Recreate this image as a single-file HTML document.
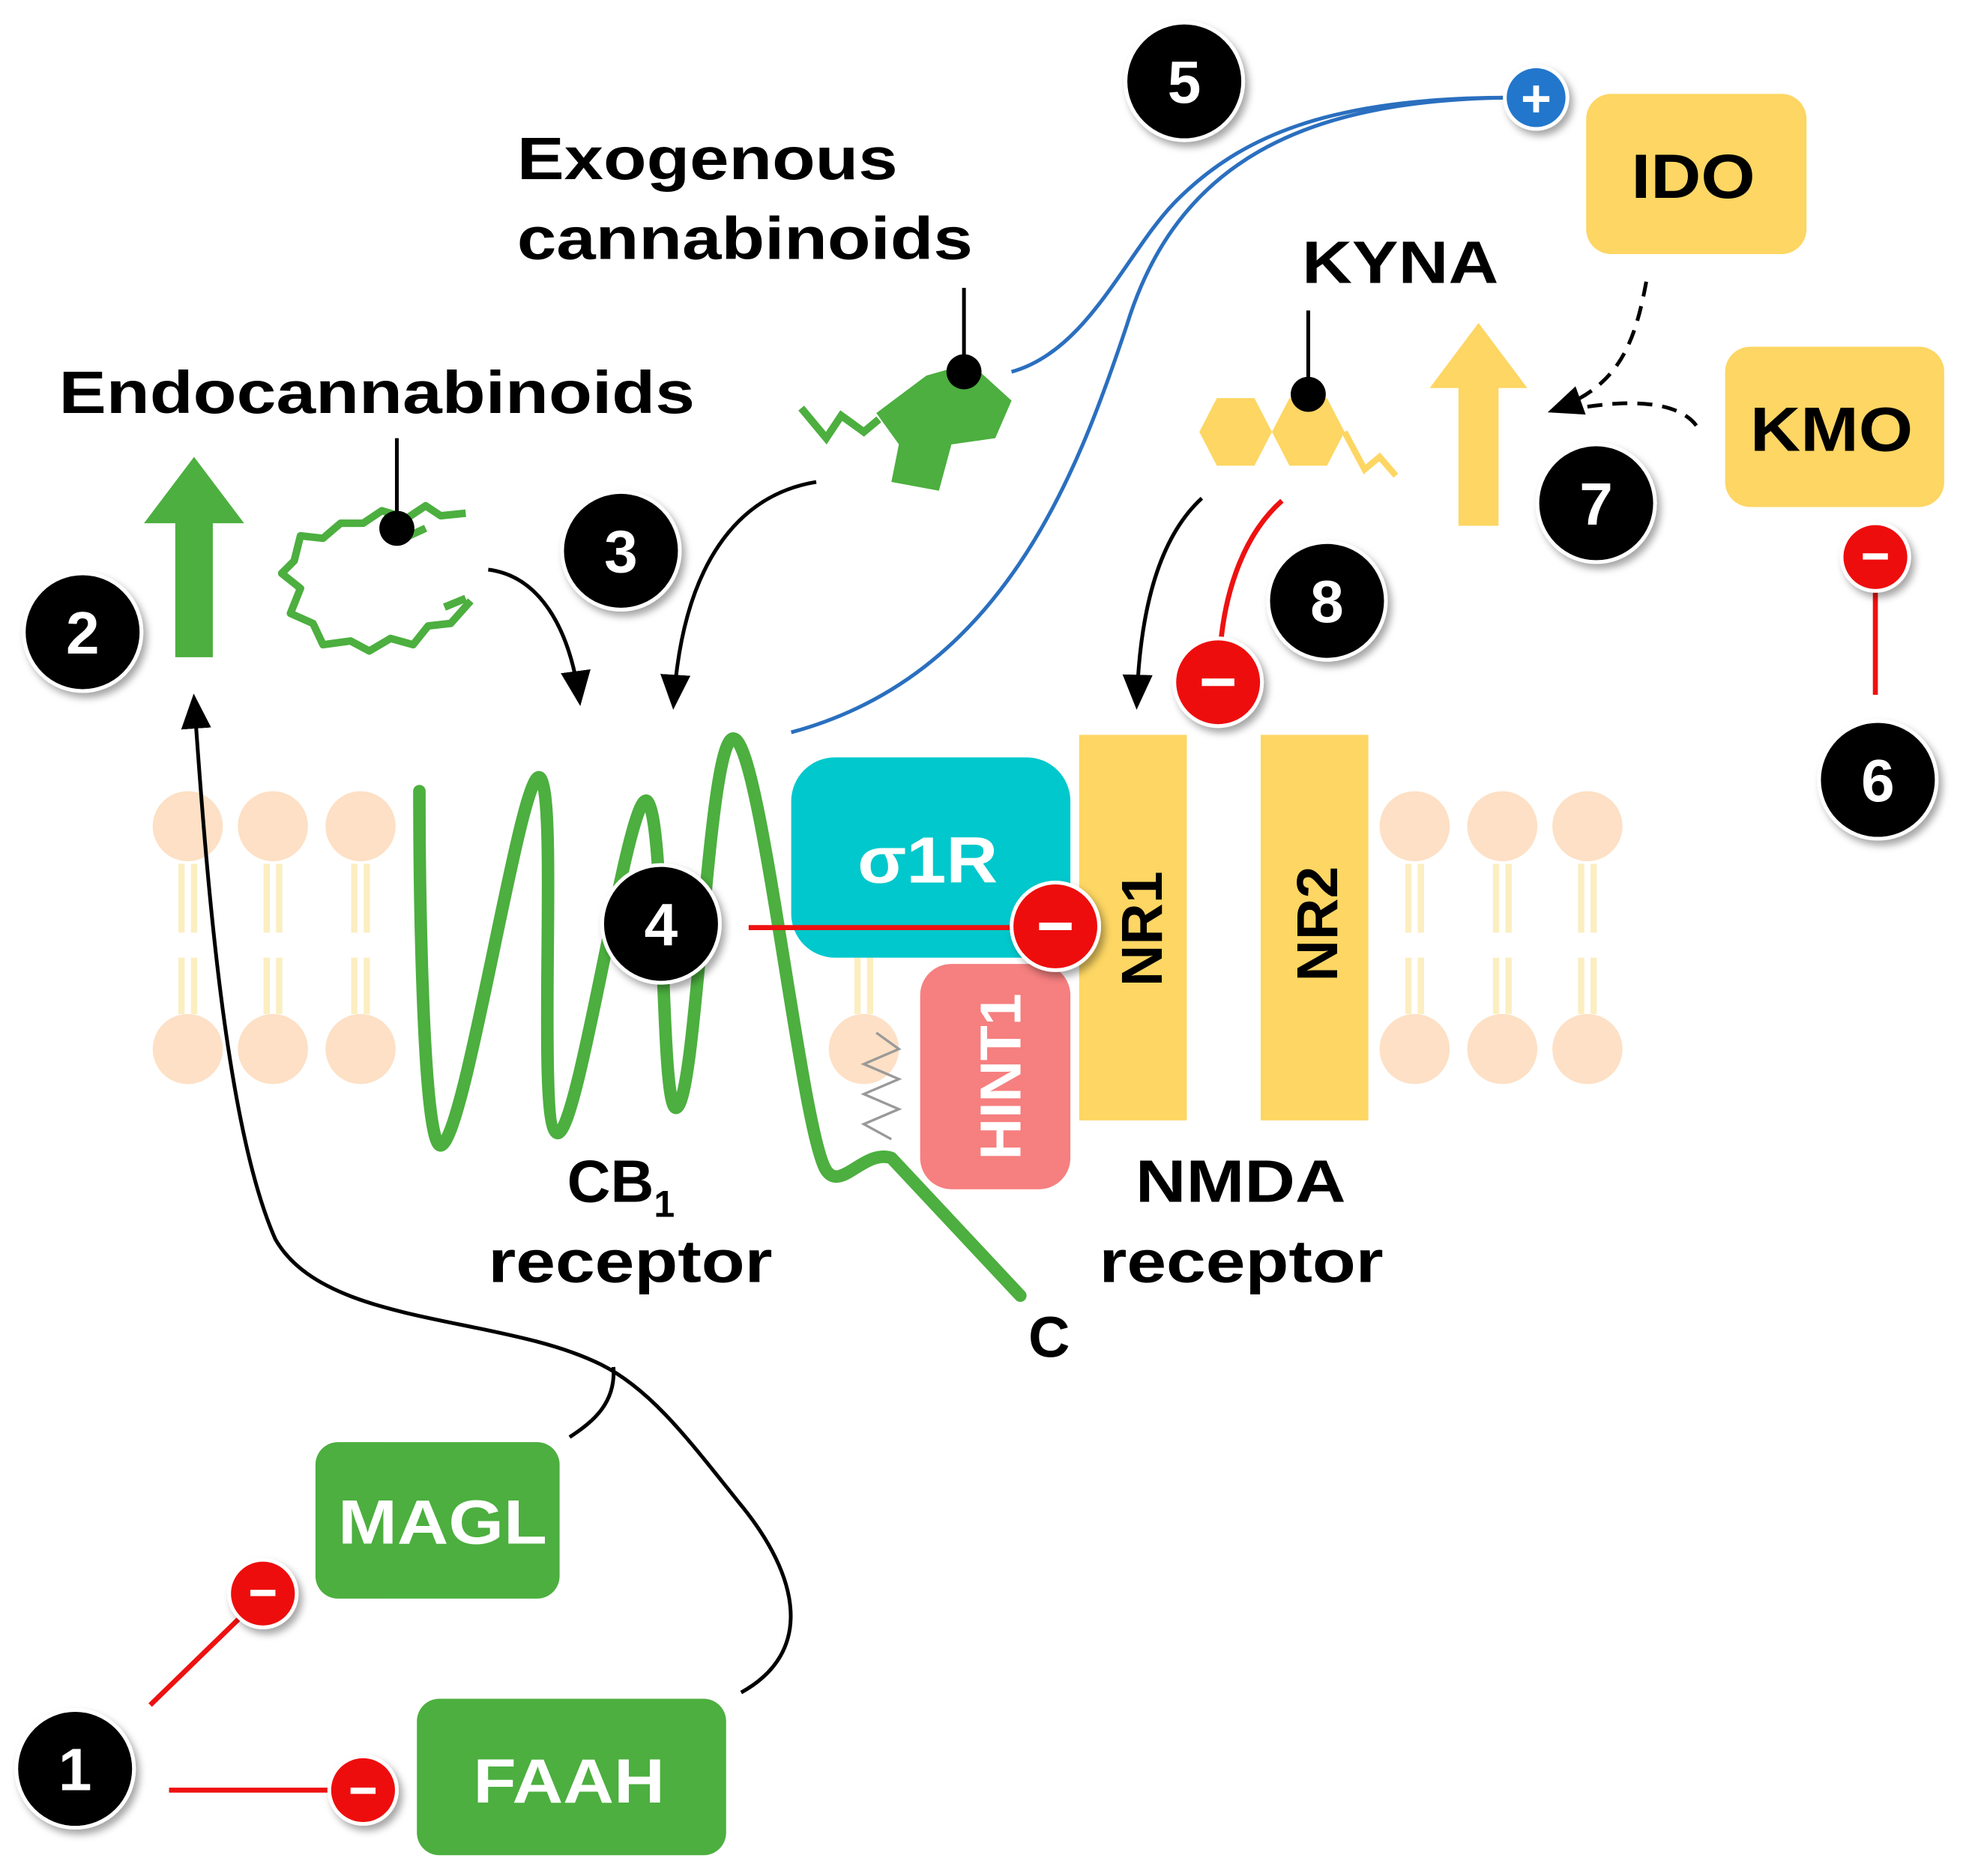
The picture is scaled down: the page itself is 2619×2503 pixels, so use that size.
<!DOCTYPE html>
<html><head><meta charset="utf-8"><style>
html,body{margin:0;padding:0;background:#fff;}
svg{display:block;}
text{font-family:"Liberation Sans",Arial,sans-serif;font-weight:bold;}
</style></head><body>
<svg width="2619" height="2503" viewBox="0 0 1568 1498.6" preserveAspectRatio="none" xmlns="http://www.w3.org/2000/svg">
<defs>
<marker id="ahb" markerWidth="28" markerHeight="28" refX="24" refY="14" orient="auto" markerUnits="userSpaceOnUse" viewBox="0 0 28 28"><path d="M0,2 L28,14 L0,26 z" fill="#000"/></marker>
<filter id="sh" x="-30%" y="-30%" width="160%" height="160%"><feDropShadow dx="3" dy="4" stdDeviation="3" flood-color="#000" flood-opacity="0.35"/></filter>
</defs>
<rect width="1568" height="1500" fill="#fff"/>
<g stroke="#fbeec0" stroke-width="5">
<g id="tl">
<line x1="145" y1="690" x2="145" y2="745"/><line x1="155" y1="690" x2="155" y2="745"/>
<line x1="145" y1="765" x2="145" y2="810"/><line x1="155" y1="765" x2="155" y2="810"/>
</g>
<use href="#tl" x="68"/><use href="#tl" x="138"/>
<use href="#tl" x="980"/><use href="#tl" x="1050"/><use href="#tl" x="1118"/><use href="#tl" x="540"/>
</g>
<g fill="#fde0c5">
<circle cx="150" cy="660" r="28"/><circle cx="218" cy="660" r="28"/><circle cx="288" cy="660" r="28"/>
<circle cx="150" cy="838" r="28"/><circle cx="218" cy="838" r="28"/><circle cx="288" cy="838" r="28"/>
<circle cx="1130" cy="660" r="28"/><circle cx="1200" cy="660" r="28"/><circle cx="1268" cy="660" r="28"/>
<circle cx="1130" cy="838" r="28"/><circle cx="1200" cy="838" r="28"/><circle cx="1268" cy="838" r="28"/>
<circle cx="690" cy="838" r="28"/>
</g>
<path d="M700,825 L718,838 L690,850 L718,862 L690,874 L718,886 L690,898 L712,910" fill="none" stroke="#999" stroke-width="2"/>
<rect x="632" y="605" width="223" height="160" rx="35" fill="#00c8cc"/>
<text x="685" y="705" font-size="52" fill="#fff" textLength="112" lengthAdjust="spacingAndGlyphs">σ1R</text>
<rect x="735" y="770" width="120" height="180" rx="25" fill="#f67f7f"/>
<text transform="translate(815,860) rotate(-90)" font-size="46" fill="#fff" text-anchor="middle">HINT1</text>
<rect x="862" y="587" width="86" height="308" fill="#fdd663"/>
<rect x="1007" y="587" width="86" height="308" fill="#fdd663"/>
<text transform="translate(928,742) rotate(-90)" font-size="46" fill="#000" text-anchor="middle">NR1</text>
<text transform="translate(1068,738) rotate(-90)" font-size="46" fill="#000" text-anchor="middle">NR2</text>
<path d="M335,632 C335,720 338,915 352,915 C372,912 418,600 432,622 C446,645 428,900 445,905 C462,910 502,628 517,640 C532,655 527,885 540,885 C557,882 565,588 586,590 C608,592 640,905 660,935 C672,952 690,918 712,925 L815,1035" fill="none" stroke="#4caf3f" stroke-width="10" stroke-linejoin="round" stroke-linecap="round"/>
<path d="M632,585 C800,540 860,380 900,260 C940,130 1040,80 1205,78" fill="none" stroke="#2a6fbf" stroke-width="3"/>
<path d="M808,297 C870,280 900,200 940,160 C990,110 1060,78 1205,78" fill="none" stroke="#2a6fbf" stroke-width="3"/>
<circle cx="1227" cy="78" r="25" fill="#2277cc" stroke="#fff" stroke-width="3" filter="url(#sh)"/>
<text x="1227" y="93" font-size="42" fill="#fff" text-anchor="middle">+</text>
<path d="M140,525 L170,525 L170,418 L195,418 L155,365 L115,418 L140,418 Z" fill="#4caf3f"/>
<path d="M1165,420 L1197,420 L1197,310 L1220,310 L1181,258 L1142,310 L1165,310 Z" fill="#fdd663"/>
<path d="M372,410 L352,412 L340,404 L325,414 L305,408 L290,418 L272,418 L258,430 L240,428 L235,448 L225,458 L240,470 L232,490 L250,498 L258,515 L280,512 L295,520 L312,510 L330,515 L342,500 L360,498 L376,480" fill="none" stroke="#4caf3f" stroke-width="6" stroke-linejoin="round"/>
<path d="M340,422 L318,432 M372,478 L355,485" fill="none" stroke="#4caf3f" stroke-width="6"/>
<line x1="317" y1="350" x2="317" y2="420" stroke="#000" stroke-width="3"/><circle cx="317" cy="422" r="14" fill="#000"/>
<path d="M700,330 L740,300 L775,290 L808,320 L795,350 L760,355 L750,392 L712,385 L718,355 Z" fill="#4caf3f"/>
<path d="M640,326 L660,350 L672,332 L690,345 L702,335" fill="none" stroke="#4caf3f" stroke-width="6"/>
<line x1="770" y1="230" x2="770" y2="295" stroke="#000" stroke-width="3"/><circle cx="770" cy="297" r="14" fill="#000"/>
<path d="M958,345 L972,318 L1002,318 L1016,345 L1002,372 L972,372 Z" fill="#fdd663"/>
<path d="M1016,345 L1030,318 L1060,318 L1074,345 L1060,372 L1030,372 Z" fill="#fdd663"/>
<path d="M1074,345 L1090,375 L1102,365 L1115,380" fill="none" stroke="#fdd663" stroke-width="5"/>
<line x1="1045" y1="248" x2="1045" y2="313" stroke="#000" stroke-width="3"/><circle cx="1045" cy="315" r="14" fill="#000"/>
<path d="M390,455 C430,460 455,500 463,560" fill="none" stroke="#000" stroke-width="3" marker-end="url(#ahb)"/>
<path d="M652,385 C590,395 545,450 538,563" fill="none" stroke="#000" stroke-width="3" marker-end="url(#ahb)"/>
<path d="M960,398 C925,430 910,490 908,563" fill="none" stroke="#000" stroke-width="3" marker-end="url(#ahb)"/>
<path d="M592,1352 C650,1320 640,1260 590,1200 C550,1150 520,1110 480,1090 C400,1050 260,1060 220,990 C180,900 165,700 155,558" fill="none" stroke="#000" stroke-width="3" marker-end="url(#ahb)"/>
<path d="M455,1148 C475,1135 492,1120 490,1092" fill="none" stroke="#000" stroke-width="3"/>
<path d="M1315,225 C1305,280 1290,310 1240,328" fill="none" stroke="#000" stroke-width="3" stroke-dasharray="12,8" marker-end="url(#ahb)"/>
<path d="M1355,340 C1340,320 1300,318 1250,328" fill="none" stroke="#000" stroke-width="3" stroke-dasharray="12,8"/>
<g stroke="#ee1111" stroke-width="4" fill="none">
<line x1="598" y1="741" x2="815" y2="741"/>
<path d="M1024,400 C990,430 978,480 975,515"/>
<line x1="1498" y1="555" x2="1498" y2="470"/>
<line x1="120" y1="1362" x2="192" y2="1292"/>
<line x1="135" y1="1430" x2="265" y2="1430"/>
</g>
<g fill="#ee1111" stroke="#fff" stroke-width="3" filter="url(#sh)">
<circle cx="843" cy="740" r="35"/><circle cx="973" cy="545" r="35"/>
<circle cx="1498" cy="445" r="27"/><circle cx="210" cy="1273" r="27"/><circle cx="290" cy="1430" r="27"/>
</g>
<g fill="#fff">
<rect x="830" y="737" width="26" height="6"/><rect x="960" y="542" width="26" height="6"/>
<rect x="1488" y="442" width="20" height="5"/><rect x="200" y="1270" width="20" height="5"/><rect x="280" y="1428" width="20" height="5"/>
</g>
<rect x="1267" y="75" width="176" height="128" rx="20" fill="#fdd663"/>
<text x="1303" y="158" font-size="50" textLength="99" lengthAdjust="spacingAndGlyphs">IDO</text>
<rect x="1378" y="277" width="175" height="128" rx="20" fill="#fdd663"/>
<text x="1398" y="360" font-size="50" textLength="130" lengthAdjust="spacingAndGlyphs">KMO</text>
<rect x="252" y="1152" width="195" height="125" rx="18" fill="#4caf3f"/>
<text x="270" y="1233" font-size="50" fill="#fff" textLength="167" lengthAdjust="spacingAndGlyphs">MAGL</text>
<rect x="333" y="1357" width="247" height="125" rx="18" fill="#4caf3f"/>
<text x="378" y="1440" font-size="50" fill="#fff" textLength="153" lengthAdjust="spacingAndGlyphs">FAAH</text>
<text x="47" y="330" font-size="48" textLength="508" lengthAdjust="spacingAndGlyphs">Endocannabinoids</text>
<text x="413" y="143" font-size="48" textLength="304" lengthAdjust="spacingAndGlyphs">Exogenous</text>
<text x="413" y="207" font-size="48" textLength="364" lengthAdjust="spacingAndGlyphs">cannabinoids</text>
<text x="1040" y="226" font-size="48" textLength="157" lengthAdjust="spacingAndGlyphs">KYNA</text>
<text x="453" y="960" font-size="48">CB<tspan font-size="30" dy="12">1</tspan></text>
<text x="390" y="1024" font-size="48" textLength="227" lengthAdjust="spacingAndGlyphs">receptor</text>
<text x="907" y="960" font-size="48" textLength="168" lengthAdjust="spacingAndGlyphs">NMDA</text>
<text x="878" y="1024" font-size="48" textLength="227" lengthAdjust="spacingAndGlyphs">receptor</text>
<text x="838" y="1084" font-size="46" text-anchor="middle">C</text>
<g filter="url(#sh)" fill="#000" stroke="#fff" stroke-width="3">
<circle cx="60" cy="1413" r="47"/><circle cx="66" cy="505" r="47"/><circle cx="496" cy="440" r="47"/>
<circle cx="528" cy="738" r="47"/><circle cx="946" cy="65" r="47"/><circle cx="1500" cy="623" r="47"/>
<circle cx="1275" cy="402" r="47"/><circle cx="1060" cy="480" r="47"/>
</g>
<g fill="#fff" font-size="48" text-anchor="middle">
<text x="60" y="1430">1</text><text x="66" y="522">2</text><text x="496" y="457">3</text>
<text x="528" y="755">4</text><text x="946" y="82">5</text><text x="1500" y="640">6</text>
<text x="1275" y="419">7</text><text x="1060" y="497">8</text>
</g>
</svg>
</body></html>
